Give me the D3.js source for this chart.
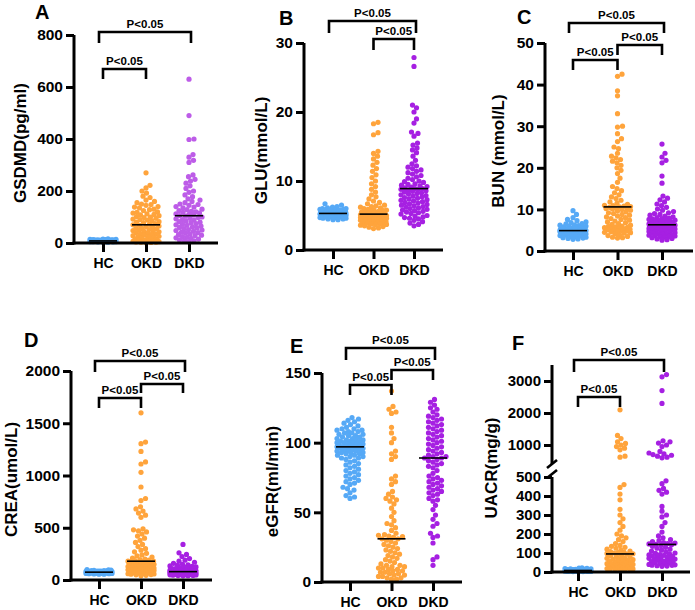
<!DOCTYPE html>
<html><head><meta charset="utf-8">
<script src="https://cdn.jsdelivr.net/npm/d3@7"></script>
<style>body{margin:0;background:#fff}svg{display:block}text{font-family:Arial,"Liberation Sans",sans-serif;font-weight:bold}</style>
</head><body><svg id="c" width="695" height="610"></svg>
<script>
const categories = ["HC","OKD","DKD"];

// Panel A: GSDMD (pg/ml)
const gsdmdHC = [3,5,6,8,9,10,11,12,7,4,6,8,10,13,14,9,5,7,11,12,6,8,10,3,15,9,7,5,11,13,8,6,4,10,12,9,7,14,6,8,10,5,11,9,7,12,8,6,16,10];
const gsdmdOKD = [270,222,212,200,192,180,175,165,160,155,150,148,145,140,138,135,130,128,125,120,118,115,112,110,108,105,102,100,98,95,92,90,88,85,82,80,78,75,72,70,68,65,63,60,58,56,55,52,50,48,46,45,43,40,38,36,35,33,30,28,26,25,23,20,18,16,15,13,12,10,9,8,7,6,5,4,3,3,2,1];
const gsdmdDKD = [630,490,400,398,340,330,318,310,262,255,245,238,230,220,210,200,195,185,178,170,165,160,155,150,148,145,140,138,135,130,128,125,122,120,118,115,112,110,108,105,103,100,98,95,93,90,88,85,82,80,78,75,72,70,68,65,62,60,58,55,52,50,48,45,42,40,38,35,32,30,28,25,22,20,18,15,12,10,8,5];
const gsdmdMedian = [8, 70, 105];

// Panel B: GLU (mmol/L)
const gluHC = [6.7,6.5,6.3,6.2,6.1,6.0,6.0,5.9,5.9,5.8,5.8,5.7,5.7,5.6,5.6,5.6,5.5,5.5,5.5,5.4,5.4,5.4,5.4,5.3,5.3,5.3,5.3,5.3,5.2,5.2,5.2,5.2,5.1,5.1,5.1,5.1,5.0,5.0,5.0,4.9,4.9,4.9,4.8,4.8,4.7,4.7,4.6,4.6,4.5,4.5,4.4,4.4,5.6,5.8,5.2,5.4,5.0,4.8,5.3,5.5];
const gluOKD = [18.5,18.3,17.0,16.7,14.3,14.0,13.6,13.2,12.7,12.3,11.8,11.4,10.9,10.5,10.0,9.6,9.2,8.8,8.4,8.0,7.7,7.4,7.1,6.9,6.7,6.5,6.4,6.3,6.2,6.1,6.0,5.9,5.8,5.8,5.7,5.6,5.6,5.5,5.5,5.4,5.4,5.3,5.3,5.3,5.2,5.2,5.1,5.1,5.1,5.0,5.0,5.0,5.0,4.9,4.9,4.9,4.8,4.8,4.8,4.7,4.7,4.7,4.6,4.6,4.6,4.5,4.5,4.5,4.4,4.4,4.3,4.3,4.2,4.2,4.1,4.1,4.0,4.0,3.9,3.9,3.8,3.8,3.7,3.7,3.6,3.5,3.4,3.3,3.2,3.1];
const gluDKD = [27.9,26.6,21.0,20.6,20.0,19.0,18.4,17.1,16.9,16.5,15.5,15.2,14.8,14.5,14.1,13.6,13.0,12.5,12.2,12.0,11.8,11.6,11.4,11.2,11.0,10.8,10.6,10.4,10.2,10.0,9.9,9.8,9.6,9.5,9.4,9.3,9.2,9.1,9.0,8.9,8.9,8.8,8.8,8.7,8.6,8.5,8.4,8.3,8.2,8.1,8.0,7.9,7.8,7.7,7.6,7.5,7.4,7.3,7.2,7.1,7.0,6.9,6.8,6.7,6.6,6.5,6.4,6.3,6.2,6.1,6.0,5.9,5.8,5.7,5.6,5.5,5.4,5.3,5.2,5.0,4.9,4.8,4.7,4.6,4.5,4.3,4.1,3.9,3.7,3.5];
const gluMedian = [5.3, 5.2, 8.9];

// Panel C: BUN (mmol/L)
const bunHC = [9.7,8.8,8.0,7.6,7.3,7.0,6.8,6.6,6.5,6.3,6.2,6.1,6.0,5.9,5.8,5.7,5.6,5.6,5.5,5.5,5.4,5.4,5.3,5.3,5.2,5.2,5.1,5.1,5.0,5.0,5.0,4.9,4.9,4.9,4.9,4.8,4.8,4.8,4.8,4.7,4.7,4.7,4.6,4.6,4.6,4.5,4.5,4.5,4.4,4.4,4.4,4.3,4.3,4.2,4.2,4.1,4.1,4.0,4.0,3.9,3.9,3.8,3.7,3.6,3.5,3.4,3.3,3.2,3.1,3.0,2.9,2.8,5.2,5.4,4.6,4.4,5.0,4.8];
const bunOKD = [42.5,42.0,38.5,37.3,33.0,30.0,29.8,28.2,27.0,26.3,25.0,24.6,23.5,22.8,22.4,22.0,21.6,21.2,20.6,20.0,19.4,18.6,17.5,16.5,15.5,15.0,14.5,14.0,13.5,13.0,12.6,12.2,11.8,11.5,11.2,11.0,10.9,10.8,10.7,10.6,10.5,10.4,10.3,10.2,10.1,10.0,9.8,9.6,9.4,9.2,9.0,8.8,8.6,8.4,8.2,8.0,7.8,7.6,7.4,7.2,7.0,6.8,6.6,6.4,6.2,6.0,5.9,5.8,5.7,5.6,5.5,5.4,5.3,5.2,5.1,5.0,4.9,4.8,4.7,4.6,4.5,4.4,4.3,4.1,3.9,3.7,3.5,3.3,3.2,3.1];
const bunDKD = [25.7,23.5,22.6,21.8,21.2,18.0,16.3,13.2,12.7,12.3,11.8,11.3,10.9,10.5,10.1,9.8,9.5,9.2,9.0,8.8,8.6,8.4,8.2,8.0,7.9,7.8,7.7,7.6,7.5,7.4,7.3,7.2,7.1,7.0,6.9,6.8,6.7,6.6,6.6,6.5,6.5,6.4,6.4,6.3,6.3,6.2,6.2,6.1,6.1,6.0,6.0,5.9,5.9,5.8,5.8,5.7,5.7,5.6,5.6,5.5,5.5,5.4,5.4,5.3,5.3,5.2,5.1,5.0,4.9,4.8,4.7,4.6,4.5,4.4,4.3,4.2,4.1,4.0,3.9,3.8,3.7,3.6,3.5,3.4,3.3,3.2,3.0,2.9,2.7,2.6];
const bunMedian = [4.9, 10.6, 6.3];

// Panel D: CREA (umol/L)
const creaHC = [100,98,95,93,90,88,86,85,84,82,81,80,79,78,78,77,76,76,75,75,74,74,73,73,72,72,71,71,70,70,69,68,68,67,66,65,64,63,62,61,60,58,56,55,80,77,75,73,70,68,85,90,66,72,74,76,78,82,64,70];
const creaOKD = [1600,1320,1305,1230,1130,1110,1030,890,780,760,700,680,660,640,620,600,490,480,470,460,440,420,400,380,360,340,320,300,285,270,255,240,230,220,210,200,195,190,185,180,180,178,175,172,170,165,160,155,150,148,145,140,138,135,132,130,128,125,122,120,118,115,112,110,108,105,102,100,98,95,92,90,88,85,82,80,78,75,72,70,68,65,62,60,58,55,52,50,45,40];
const creaDKD = [340,260,245,225,205,190,180,170,160,150,145,140,135,130,125,120,115,112,110,108,105,102,100,98,96,94,92,90,89,88,87,86,85,84,83,82,82,81,81,80,80,80,79,79,78,78,77,77,76,76,75,75,74,74,73,73,72,72,71,71,70,70,69,69,68,68,67,66,65,64,63,62,61,60,59,58,57,56,55,54,53,52,51,50,48,46,44,42,41,40];
const creaMedian = [75, 180, 80];

// Panel E: eGFR (ml/min)
const egfrHC = [118,117,116,115,114,113,112,111,110,110,109,109,108,108,107,107,106,106,105,105,104,104,103,103,102,102,102,101,101,101,100,100,100,99,99,99,98,98,98,97,97,97,97,96,96,96,96,95,95,95,94,94,94,93,93,93,92,92,91,91,90,90,89,89,88,87,86,85,84,83,82,81,80,79,78,77,76,75,74,73,72,71,70,68,67,66,64,62,61,60];
const egfrOKD = [137,126,124,122,121,111,107,103,100,94,92,90,88,76,74,72,70,65,63,61,60,59,58,56,53,50,47,44,42,41,39,37,35,34,33.5,33,32.5,32,31,31,30,29,28,27,26,25,24,23,22,21,20,19,18,17,16,15,14,13,12,12,11,11,10,10,9,9,8,8,7,7,6,6,5,5,4,4,3,3,2,2];
const egfrDKD = [131,129,127,125,124,122,120,119,118,117,116,115,114,113,112,111,110,109,108,107,106,105,104,103,102,101,100,99,98,97,96,95,94,93,92,91,90,90,89,89,88,87,86,85,84,83,82,80,78,76,75,74,73,72,71,70,69,68,67,66,65,64,63,62,60,59,58,55,52,48,45,42,40,35,33,32,28,18,16,12];
const egfrMedian = [97, 31, 89];

// Panel F: UACR (mg/g)
const uacrHC = [22,20,19,18,17,16,15,14,14,13,13,12,12,11,11,10,10,10,9,9,9,9,8,8,8,8,8,7,7,7,7,6,6,6,6,5,5,5,5,4,4,4,3,3,3,2,2,2,12,10,8,6,9,7,5,11,8,6,4,10];
const uacrOKD = [2100,1300,1200,1100,1050,1000,950,900,850,650,620,460,445,410,380,330,300,280,260,240,220,200,190,180,170,160,150,140,135,130,125,120,115,110,108,105,102,100,98,96,94,90,86,82,78,75,72,70,68,65,62,60,58,55,52,50,48,46,44,42,40,38,36,35,34,32,30,28,26,25,24,22,20,18,16,15,14,13,12,11];
const uacrDKD = [3200,3130,2700,2300,1130,1100,1060,1000,950,800,750,720,700,680,650,620,600,480,465,440,430,420,410,345,320,300,290,260,240,210,190,180,170,165,160,155,152,150,148,146,144,140,135,130,125,120,115,110,105,100,98,95,92,90,88,85,82,80,78,75,72,70,68,65,62,60,58,55,52,50,48,45,42,40,38,36,35,33,31,30];
const uacrMedian = [8, 95, 145];

// Tick labels
const ticksA = [0,200,400,600,800];
const ticksB = [0,10,20,30];
const ticksC = [0,10,20,30,40,50];
const ticksD = [0,500,1000,1500,2000];
const ticksE = [0,50,100,150];
const ticksFLow = [0,100,200,300,400,500];
const ticksFHigh = [1000,2000,3000];

const pLabel = "P<0.05";

const blue = "#56a9f6", orange = "#ffa43c", purpleA = "#bd5ce8", purple = "#a620e2";

const panels = [
  {letter:"A", title:"GSDMD(pg/ml)", data:[gsdmdHC,gsdmdOKD,gsdmdDKD], med:gsdmdMedian, dom:[0,800], range:[243,35], ticks:ticksA,
   ax:74, xEnd:218, cats:[103,189], colors:[blue,orange,purpleA], letterPos:[35,19], labelX:20,
   brackets:[[0,2,32,43],[0,1,69,79]]},
  {letter:"B", title:"GLU(mmol/L)", data:[gluHC,gluOKD,gluDKD], med:gluMedian, dom:[0,30], range:[250,43], ticks:ticksB,
   ax:304, xEnd:443, cats:[333,414], colors:[blue,orange,purple], letterPos:[279,25], labelX:261,
   brackets:[[0,2,21,33],[1,2,39,50]]},
  {letter:"C", title:"BUN (mmol/L)", data:[bunHC,bunOKD,bunDKD], med:bunMedian, dom:[0,50], range:[251,43], ticks:ticksC,
   ax:545, xEnd:693, cats:[573,662], colors:[blue,orange,purple], letterPos:[517,24], labelX:498,
   brackets:[[0,2,23,33],[1,2,45,55],[0,1,60,70]]},
  {letter:"D", title:"CREA(umol/L)", data:[creaHC,creaOKD,creaDKD], med:creaMedian, dom:[0,2000], range:[580,371], ticks:ticksD,
   ax:71, xEnd:212, cats:[99,183], colors:[blue,orange,purple], letterPos:[24,347], labelX:11,
   brackets:[[0,2,361,372],[1,2,384,393],[0,1,398,408]]},
  {letter:"E", title:"eGFR(ml/min)", data:[egfrHC,egfrOKD,egfrDKD], med:egfrMedian, dom:[0,150], range:[582,373], ticks:ticksE,
   ax:322, xEnd:462, cats:[350,433], colors:[blue,orange,purple], letterPos:[290,353], labelX:272,
   brackets:[[0,2,348,360],[1,2,370,380],[0,1,385,395]]},
  {letter:"F", title:"UACR(mg/g)", data:[uacrHC,uacrOKD,uacrDKD], med:uacrMedian, broken:true, ticks:ticksFLow, ticksHigh:ticksFHigh,
   ax:552, xEnd:690, cats:[578,662], colors:[blue,orange,purple], letterPos:[512,350], labelX:491,
   brackets:[[0,2,360,372],[0,1,397,407]]}
];

const svg = d3.select("#c");
const R = 2.6;
const FONT = "Arial, Liberation Sans, sans-serif";

function beeswarm(ys, maxOff){
  const order = ys.map((y,i)=>i).sort((a,b)=>ys[b]-ys[a]);
  const placed = [];
  const xs = new Array(ys.length);
  const d = 2*R*0.9;
  const cands = [0];
  for(let s=0.5;s<=maxOff;s+=0.5){cands.push(s,-s);}
  order.forEach(i=>{
    const y = ys[i];
    const near = placed.filter(p=>Math.abs(p[1]-y)<d);
    let best=null, bestScore=-1;
    for(const c of cands){
      let mn = Infinity;
      for(const p of near){const dd=Math.hypot(p[0]-c,p[1]-y); if(dd<mn) mn=dd;}
      if(mn>=d){best=c;bestScore=Infinity;break;}
      if(mn>bestScore){bestScore=mn;best=c;}
    }
    xs[i]=best; placed.push([best,y]);
  });
  return xs;
}

function styleTicks(a, size){
  a.selectAll(".tick line").attr("stroke-width",3);
  a.selectAll(".tick text").attr("font-size",size).attr("font-weight","bold").attr("fill","#000").attr("font-family",FONT);
}

panels.forEach(P=>{
  const g = svg.append("g");
  let y;
  if(P.broken){
    const lo = d3.scaleLinear().domain([0,500]).range([572,477]);
    const hi = d3.scaleLinear().domain([500,3500]).range([461,365]);
    y = v => v<=500 ? lo(v) : hi(v);
    P.lo=lo; P.hi=hi;
  } else {
    y = d3.scaleLinear().domain(P.dom).range(P.range);
  }
  const x = d3.scalePoint().domain(categories).range(P.cats);
  const y0 = y(0);

  // dots
  P.data.forEach((vals,ci)=>{
    const ys = vals.map(v=>y(v));
    const xs = beeswarm(ys, 13);
    g.append("g").selectAll("circle").data(vals).join("circle")
      .attr("cx",(v,i)=>x(categories[ci])+xs[i]).attr("cy",(v,i)=>ys[i])
      .attr("r",R).attr("fill",P.colors[ci]);
  });
  P.med.forEach((m,ci)=>{
    g.append("line").attr("x1",x(categories[ci])-14).attr("x2",x(categories[ci])+14)
      .attr("y1",y(m)).attr("y2",y(m)).attr("stroke","#000").attr("stroke-width",1.6);
  });

  // y axis
  if(P.broken){
    const axLo = d3.axisLeft(P.lo).tickValues(P.ticks).tickSize(8).tickPadding(3).tickFormat(d3.format("d"));
    const axHi = d3.axisLeft(P.hi).tickValues(P.ticksHigh).tickSize(8).tickPadding(3).tickFormat(d3.format("d"));
    const gl = g.append("g").attr("transform",`translate(${P.ax},0)`).call(axLo);
    const gh = g.append("g").attr("transform",`translate(${P.ax},0)`).call(axHi);
    [gl,gh].forEach(a=>{a.select(".domain").remove(); styleTicks(a,15);});
    g.append("line").attr("x1",P.ax).attr("x2",P.ax).attr("y1",573.5).attr("y2",477).attr("stroke","#000").attr("stroke-width",3);
    g.append("line").attr("x1",P.ax).attr("x2",P.ax).attr("y1",464).attr("y2",365).attr("stroke","#000").attr("stroke-width",3);
    [464,474].forEach(yy=>{
      g.append("line").attr("x1",P.ax-5).attr("x2",P.ax+5).attr("y1",yy+4).attr("y2",yy-4).attr("stroke","#000").attr("stroke-width",2.6);
    });
  } else {
    const ay = d3.axisLeft(y).tickValues(P.ticks).tickSize(8).tickPadding(3).tickFormat(d3.format("d"));
    const ga = g.append("g").attr("transform",`translate(${P.ax},0)`).call(ay);
    ga.select(".domain").remove();
    g.append("line").attr("x1",P.ax).attr("x2",P.ax).attr("y1",y0+1.5).attr("y2",P.range[1]).attr("stroke","#000").attr("stroke-width",3);
    styleTicks(ga,15.5);
  }

  // x axis
  const axX = d3.axisBottom(x).tickSize(9).tickPadding(6);
  const gx = g.append("g").attr("transform",`translate(0,${y0})`).call(axX);
  gx.select(".domain").remove();
  g.append("line").attr("x1",P.ax-1.5).attr("x2",P.xEnd).attr("y1",y0).attr("y2",y0).attr("stroke","#000").attr("stroke-width",3);
  styleTicks(gx,14);

  // y label
  const ymid = P.broken ? 468 : (y0 + P.range[1])/2 + 4;
  g.append("text").attr("transform",`translate(${P.labelX},${ymid}) rotate(-90)`)
    .attr("text-anchor","middle").attr("dominant-baseline","central").attr("font-size",17).text(P.title);

  // letter
  g.append("text").attr("x",P.letterPos[0]).attr("y",P.letterPos[1]).attr("font-size",20).text(P.letter);

  // brackets
  P.brackets.forEach(([a,b,by,leg])=>{
    const xa = x(categories[a]) - (b-a===2?4:0), xb = x(categories[b]) + (b-a===2?2:0);
    g.append("path").attr("d",`M${xa},${leg}V${by}H${xb}V${leg}`).attr("fill","none")
      .attr("stroke","#000").attr("stroke-width",2.6);
    g.append("text").attr("x",(xa+xb)/2).attr("y",by-4).attr("text-anchor","middle").attr("font-size",11.5).text(pLabel);
  });
});
</script></body></html>
